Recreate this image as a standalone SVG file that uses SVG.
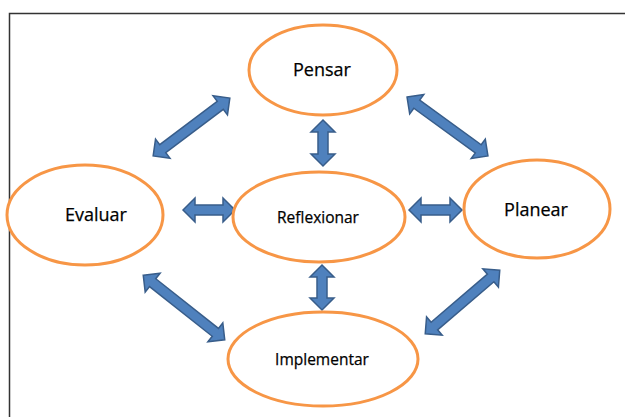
<svg xmlns="http://www.w3.org/2000/svg" width="625" height="417" viewBox="0 0 625 417">
<style>
.node ellipse{fill:#fff;stroke:#F79646;stroke-width:3}
.node text{font-family:"Open Sans","Liberation Sans",sans-serif;fill:#000;text-anchor:middle;stroke:#000;stroke-width:0.25}
.big{font-size:18px}
.small{font-size:15.5px}
.arr{fill:#4F81BD;stroke:#385D8A;stroke-width:1.5;stroke-linejoin:miter}
</style>
<rect width="625" height="417" fill="#fff"/>
<path d="M9.5 417 V13.5 H625" fill="none" stroke="#333" stroke-width="1.5"/>
<g id="connectors">
<path class="arr" transform="translate(191.5,127) rotate(-37)" d="M-48 0 L-36 -12 L-36 -5 L36 -5 L36 -12 L48 0 L36 12 L36 5 L-36 5 L-36 12 Z"/>
<path class="arr" transform="translate(447.5,126.5) rotate(36)" d="M-50 0 L-38 -12 L-38 -5 L38 -5 L38 -12 L50 0 L38 12 L38 5 L-38 5 L-38 12 Z"/>
<path class="arr" transform="translate(184,307.5) rotate(38.4)" d="M-52 0 L-40 -12 L-40 -5 L40 -5 L40 -12 L52 0 L40 12 L40 5 L-40 5 L-40 12 Z"/>
<path class="arr" transform="translate(462.5,302) rotate(-40.5)" d="M-49 0 L-37 -12 L-37 -5 L37 -5 L37 -12 L49 0 L37 12 L37 5 L-37 5 L-37 12 Z"/>
<path class="arr" transform="translate(209,210)" d="M-26 0 L-14 -12 L-14 -5 L14 -5 L14 -12 L26 0 L14 12 L14 5 L-14 5 L-14 12 Z"/>
<path class="arr" transform="translate(435.5,210)" d="M-26.5 0 L-14.5 -12 L-14.5 -5 L14.5 -5 L14.5 -12 L26.5 0 L14.5 12 L14.5 5 L-14.5 5 L-14.5 12 Z"/>
<path class="arr" transform="translate(323,143) rotate(90)" d="M-23 0 L-11 -12 L-11 -5 L11 -5 L11 -12 L23 0 L11 12 L11 5 L-11 5 L-11 12 Z"/>
<path class="arr" transform="translate(322,287.5) rotate(90)" d="M-22.5 0 L-10.5 -12 L-10.5 -5 L10.5 -5 L10.5 -12 L22.5 0 L10.5 12 L10.5 5 L-10.5 5 L-10.5 12 Z"/>
</g>
<g id="pensar" class="node"><ellipse cx="323" cy="70" rx="74" ry="45"/><text class="big" x="322" y="76">Pensar</text></g>
<g id="evaluar" class="node"><ellipse cx="85" cy="215" rx="78" ry="50"/><text class="big" x="96" y="221">Evaluar</text></g>
<g id="reflexionar" class="node"><ellipse cx="319" cy="217" rx="86" ry="45"/><text class="small" x="318" y="223">Reflexionar</text></g>
<g id="planear" class="node"><ellipse cx="537" cy="209" rx="73" ry="49"/><text class="big" x="536" y="216">Planear</text></g>
<g id="implementar" class="node"><ellipse cx="323" cy="359" rx="95" ry="47"/><text class="small" x="322" y="365">Implementar</text></g>
</svg>
